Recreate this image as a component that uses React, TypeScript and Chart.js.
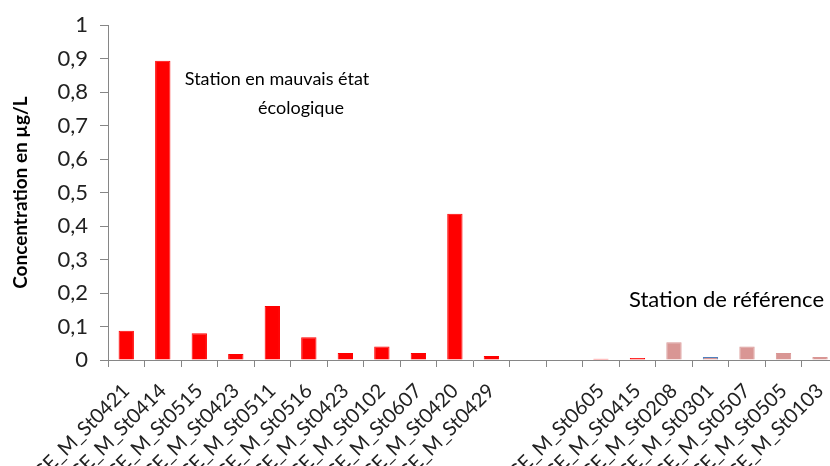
import { useEffect, useRef } from "react";
import { Chart, registerables } from "chart.js";
Chart.register(...registerables);

const categories = [
  "CE_M_St0421", "CE_M_St0414", "CE_M_St0515", "CE_M_St0423", "CE_M_St0511",
  "CE_M_St0516", "CE_M_St0423", "CE_M_St0102", "CE_M_St0607", "CE_M_St0420",
  "CE_M_St0429", "", "", "CE_M_St0605", "CE_M_St0415", "CE_M_St0208",
  "CE_M_St0301", "CE_M_St0507", "CE_M_St0505", "CE_M_St0103",
];
const concentrations = [
  0.087, 0.894, 0.080, 0.018, 0.161, 0.068, 0.021, 0.040, 0.021, 0.437,
  0.012, null, null, 0.004, 0.006, 0.053, 0.009, 0.040, 0.021, 0.009,
];
const referenceStations = ["CE_M_St0208", "CE_M_St0301", "CE_M_St0507", "CE_M_St0505", "CE_M_St0103"];
const outlinedStations = ["CE_M_St0301"];
const yTicks = [0, 0.1, 0.2, 0.3, 0.4, 0.5, 0.6, 0.7, 0.8, 0.9, 1];

const FONT = "Lato, 'Open Sans', sans-serif";
const RED = "#FF0000";
const PINK = "#D99694";
const BLUE = "#4F81BD";
const AXIS = "#868686";

export default function App() {
  const ref = useRef<HTMLCanvasElement | null>(null);
  useEffect(() => {
    if (!ref.current) return;
    const fill = categories.map((c) => (referenceStations.includes(c) ? PINK : RED));
    const border = categories.map((c, i) => (outlinedStations.includes(c) ? BLUE : fill[i]));
    const annotations = {
      id: "annotations",
      afterDraw(chart: any) {
        const ctx = chart.ctx;
        ctx.save();
        ctx.fillStyle = "#000";
        ctx.font = `18px ${FONT}`;
        ctx.textAlign = "center";
        ctx.textBaseline = "middle";
        ctx.fillText("Station en mauvais état", 277, 79);
        ctx.fillText("écologique", 301, 108);
        ctx.font = `22px ${FONT}`;
        ctx.textAlign = "left";
        ctx.fillText("Station de référence", 629, 300);
        ctx.restore();
      },
    };
    const chart = new Chart(ref.current, {
      type: "bar",
      data: {
        labels: categories,
        datasets: [
          {
            data: concentrations as any,
            backgroundColor: fill,
            borderColor: border,
            borderWidth: 1,
            barPercentage: 0.42,
            categoryPercentage: 1,
          },
        ],
      },
      options: {
        animation: false,
        responsive: false,
        layout: { padding: { top: 21, left: 0, right: 0, bottom: 0 } },
        plugins: { legend: { display: false }, tooltip: { enabled: false } },
        scales: {
          x: {
            offset: true,
            grid: { display: true, offset: true, drawOnChartArea: false, drawTicks: true, tickLength: 7, color: AXIS },
            border: { color: AXIS, width: 1 },
            ticks: {
              autoSkip: false,
              minRotation: 45,
              maxRotation: 45,
              color: "#222",
              font: { family: FONT, size: 20 },
              padding: 12,
            },
            afterFit(scale: any) {
              scale.height = 106;
            },
          },
          y: {
            min: 0,
            max: 1,
            afterBuildTicks(scale: any) {
              scale.ticks = yTicks.map((v) => ({ value: v }));
            },
            grid: { display: true, drawOnChartArea: false, drawTicks: true, tickLength: 8, color: AXIS },
            border: { color: AXIS, width: 1 },
            ticks: {
              color: "#222",
              font: { family: FONT, size: 22 },
              padding: 12,
              callback: (v: any) => String(Math.round(Number(v) * 10) / 10).replace(".", ","),
            },
            title: {
              display: true,
              text: "Concentration en µg/L",
              color: "#000",
              font: { family: FONT, size: 19, weight: "bold" },
              padding: { top: 9, bottom: 4 },
            },
            afterFit(scale: any) {
              scale.width = 108;
            },
          },
        },
      },
      plugins: [annotations],
    });
    return () => chart.destroy();
  }, []);
  return (
    <div style={{ position: "fixed", left: 0, top: 0, width: 830, height: 466, overflow: "hidden", background: "#fff" }}>
      <canvas ref={ref} width={849} height={466} style={{ display: "block" }} />
    </div>
  );
}
